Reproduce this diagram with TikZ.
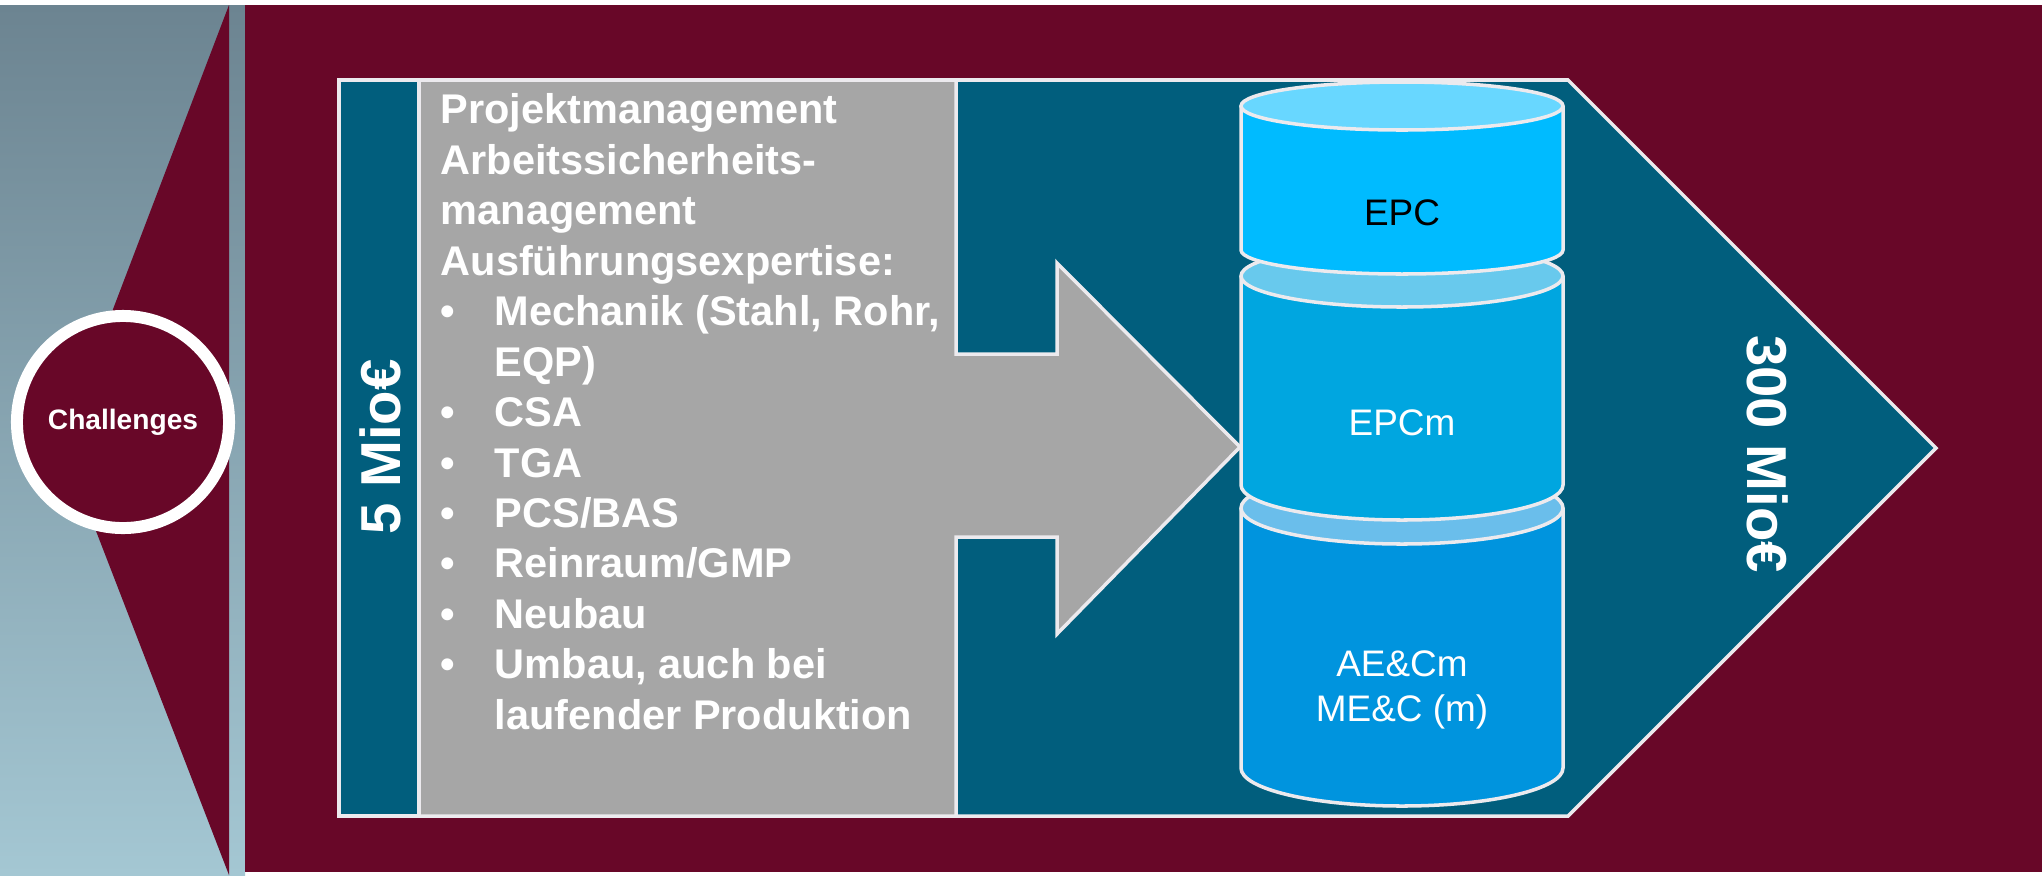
\documentclass[tikz,border=0pt]{standalone}
\usepackage{fontspec}
\setmainfont{Liberation Sans}
\usetikzlibrary{positioning}
\definecolor{wine}{RGB}{104,7,40}
\definecolor{petrol}{RGB}{1,94,125}
\definecolor{ashgray}{RGB}{166,166,166}
\definecolor{rimwhite}{RGB}{236,234,238}
\definecolor{slatetop}{RGB}{108,132,145}
\definecolor{slatebottom}{RGB}{164,199,211}
\definecolor{epcbody}{RGB}{0,187,255}
\definecolor{epclid}{RGB}{104,215,255}
\definecolor{epcmbody}{RGB}{0,166,224}
\definecolor{epcmlid}{RGB}{104,201,237}
\definecolor{aecbody}{RGB}{0,148,222}
\definecolor{aeclid}{RGB}{106,190,235}
\newcommand{\listdot}{\makebox[15.4pt][l]{•}}

\begin{document}
\begin{tikzpicture}[x=0.01cm, y=-0.01cm,
        rim/.style={draw=rimwhite, line width=1pt},
        skilltext/.style={text=white, font=\bfseries\fontsize{11.8}{14.35}\selectfont, align=left, inner sep=0pt},
        volume/.style={text=white, font=\bfseries\fontsize{16}{19}\selectfont, inner sep=0pt},
        drumtext/.style={text=white, font=\fontsize{10.5}{12.6}\selectfont, align=center, inner sep=0pt},
        badge/.style={circle, draw=white, line width=3.4pt, fill=wine, minimum size=2.12cm, text=white, font=\bfseries\fontsize{8}{9.6}\selectfont}
        ]

        \useasboundingbox (0,0) rectangle (2042,875);

        % Background
        \fill[white] (0,0) rectangle (2042,875);
        \shade[top color=slatetop, bottom color=slatebottom] (0,5) rectangle (245,875);
        \fill[wine] (245,5) rectangle (2042,872);
        \fill[wine] (229,5) -- (62,443) -- (229,875) -- cycle;

        % Outer arrow and boxes
        \filldraw[fill=petrol, rim] (339,80) -- (1568,80) -- (1936,448) -- (1568,816) -- (339,816) -- cycle;
        \filldraw[fill=petrol, rim] (339,80) rectangle (419,816);
        \filldraw[fill=ashgray, rim] (419,80) -- (956,80) -- (956,354) -- (1057,354) -- (1057,263) -- (1240,447)
            -- (1057,634) -- (1057,537) -- (956,537) -- (956,816) -- (419,816) -- cycle;

        % Cylinders, lowest first
        \foreach \ytop/\rtop/\ybot/\rbot/\body/\lid in {508/36/768/38/aecbody/aeclid, 276/31/485/35/epcmbody/epcmlid, 106/24/250/24/epcbody/epclid} {
            \filldraw[fill=\body, rim] (1241,\ytop) -- (1241,\ybot) arc[start angle=180, end angle=0, x radius=161, y radius=\rbot] -- (1563,\ytop);
            \filldraw[fill=\lid, rim] (1402,\ytop) ellipse[x radius=161, y radius=\rtop];
        }

        % Nodes
        \node[badge] (challenges) at (123,422) {Challenges};
        \node[volume, rotate=90] (small) at (380,447) {5 Mio€};
        \node[volume, rotate=-90] (large) at (1768,454) {300 Mio€};
        \node[skilltext, anchor=north west] (skills) at (440,93) {Projektmanagement\\
            Arbeitssicherheits-\\
            management\\
            Ausführungsexpertise:\\
            \listdot Mechanik (Stahl, Rohr,\\
            \hspace*{15.4pt}EQP)\\
            \listdot CSA\\
            \listdot TGA\\
            \listdot PCS/BAS\\
            \listdot Reinraum/GMP\\
            \listdot Neubau\\
            \listdot Umbau, auch bei\\
            \hspace*{15.4pt}laufender Produktion};
        \node[drumtext, text=black] (epc) at (1402,213) {EPC};
        \node[drumtext] (epcm) at (1402,423) {EPCm};
        \node[drumtext] (aec) at (1402,690) {AE\&Cm\\ME\&C (m)};

\end{tikzpicture}
\end{document}
